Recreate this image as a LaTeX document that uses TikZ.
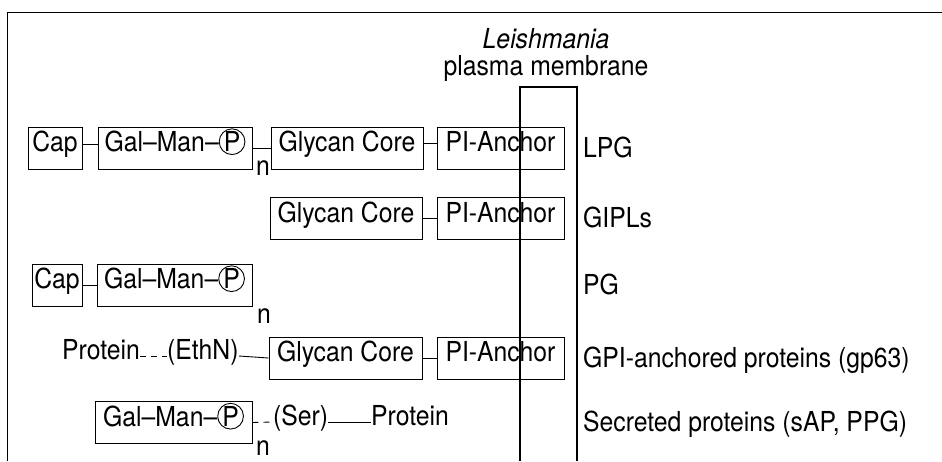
\documentclass[tikz,border=0pt]{standalone}
\usepackage{fontspec}
\setmainfont[FakeStretch=0.9]{TeX Gyre Heros}
\newcommand\circP{\tikz[baseline=(cp.base)]\node[draw,circle,solid,line width=0.9pt,inner sep=0pt,minimum size=0pt,text height=0.72em,text depth=0pt](cp){P};}
\begin{document}
\begin{tikzpicture}[x=1pt,y=-1pt,font=\fontsize{27.5}{32}\selectfont,
  box/.style={draw,line width=0.9pt,minimum height=42pt,inner sep=0pt,text height=0.72em,text depth=0pt,anchor=center},
  lab/.style={anchor=base west,inner sep=0pt},
  txt/.style={anchor=west,inner sep=0pt,text height=0.72em,text depth=0pt},
  link/.style={line width=0.9pt},
  dlink/.style={line width=0.9pt,dash pattern=on 6pt off 5pt},
  mem/.style={line width=1.3pt}]
\useasboundingbox (0,0) rectangle (942,461);
% frame
\draw[line width=1.3pt] (7.3,461) -- (7.3,12.7) -- (942,12.7);
% title
\node[anchor=base,inner sep=0pt] (t1) at (546,48) {\itshape Leishmania};
\node[anchor=base,inner sep=0pt] (t2) at (546,75) {plasma membrane};
% row 1 LPG
\node[box,minimum width=54pt] (cap1) at (55,148) {Cap};
\node[box,minimum width=154pt] (gm1) at (175,148) {Gal\textendash Man\textendash\circP};
\node[lab] (n1) at (256,175) {n};
\node[box,minimum width=152pt] (gc1) at (347,148) {Glycan Core};
\node[box,minimum width=127pt] (pi1) at (500.5,148) {PI-Anchor};
\node[lab] (lpg) at (583,157) {LPG};
\draw[link] ([yshift=4pt]cap1.east) -- ([yshift=4pt]gm1.west);
\draw[link] (gm1.east) -- (gc1.west);
\draw[link] ([yshift=5pt]gc1.east) -- ([yshift=5pt]pi1.west);
% row 2 GIPLs
\node[box,minimum width=152pt] (gc2) at (346,218.5) {Glycan Core};
\node[box,minimum width=127pt] (pi2) at (500.5,218.5) {PI-Anchor};
\node[lab] (gipl) at (583,227) {GIPLs};
\draw[link] (gc2.east) -- (pi2.west);
% row 3 PG
\node[box,minimum width=50pt] (cap3) at (57,285) {Cap};
\node[box,minimum width=155pt] (gm3) at (174.5,285) {Gal\textendash Man\textendash\circP};
\node[lab] (n3) at (257,323) {n};
\node[lab] (pg) at (583,294) {PG};
\draw[link] (cap3.east) -- (gm3.west);
% row 4 GPI-anchored
\node[txt] (prot4) at (62,356) {Protein};
\node[txt] (ethn) at (167,356) {(EthN)};
\node[box,minimum width=153pt] (gc4) at (345.5,358) {Glycan Core};
\node[box,minimum width=127pt] (pi4) at (500.5,358) {PI-Anchor};
\node[lab] (gpi) at (583,367) {GPI-anchored proteins (gp63)};
\draw[dlink] (prot4.east) -- (ethn.west);
\draw[link] (ethn.east) -- (gc4.west);
\draw[link] (gc4.east) -- (pi4.west);
% row 5 secreted
\node[box,minimum width=157pt] (gm5) at (173.5,422.5) {Gal\textendash Man\textendash\circP};
\node[lab] (n5) at (256,455) {n};
\node[txt] (ser) at (273,422) {(Ser)};
\node[txt] (prot5) at (371,422) {Protein};
\node[lab] (sec) at (583,431) {Secreted proteins (sAP, PPG)};
\draw[dlink] (gm5.east) -- (ser.west);
\draw[link] (ser.east) -- (prot5.west);
% membrane
\draw[mem] (520,461) -- (520,87) -- (577,87) -- (577,461);
\end{tikzpicture}
\end{document}
